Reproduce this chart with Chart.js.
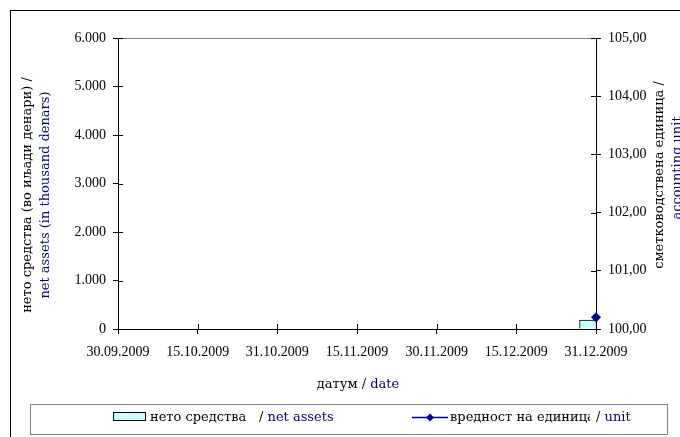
<!DOCTYPE html>
<html>
<head>
<meta charset="utf-8">
<script src="https://cdn.jsdelivr.net/npm/chart.js@4/dist/chart.umd.min.js"></script>
<style>
  html, body { margin: 0; padding: 0; background: #fff; }
  #wrap { width: 680px; height: 437px; }
</style>
</head>
<body>
<div id="wrap"><canvas id="myChart" width="680" height="437"></canvas></div>
<script>
// x axis tick labels (evenly spaced, index 0..6)
const dateLabels = ['30.09.2009', '15.10.2009', '31.10.2009', '15.11.2009', '30.11.2009', '15.12.2009', '31.12.2009'];

// net assets (thousand denars), bar position on the index axis
const barX = [5.9];
const netAssets = [185];

// accounting unit value
const unitX = [6];
const unitValue = [100.2];

// axis ranges
const leftMin = 0, leftMax = 6000, leftStep = 1000;
const rightMin = 100, rightMax = 105, rightStep = 1;

const navy = '#000080';
const FONT = '"Liberation Serif", "Times New Roman", serif';
const TEXT_FONT = '13px "DejaVu Serif", serif';

// draw text parts of different colours one after another
function drawParts(ctx, parts, x, y) {
  let cx = x;
  parts.forEach(([text, color]) => {
    ctx.fillStyle = color;
    ctx.fillText(text, cx, y);
    cx += ctx.measureText(text).width;
  });
}

function partsWidth(ctx, parts) {
  return parts.reduce((w, [text]) => w + ctx.measureText(text).width, 0);
}

function rotatedText(ctx, text, color, x, y) {
  ctx.save();
  ctx.translate(x, y);
  ctx.rotate(-Math.PI / 2);
  ctx.textAlign = 'center';
  ctx.fillStyle = color;
  ctx.fillText(text, 0, 0);
  ctx.restore();
}

const decorPlugin = {
  id: 'decor',
  afterDraw(chart) {
    const ctx = chart.ctx;
    const area = chart.chartArea;
    const sx = chart.scales.x, sy = chart.scales.y, sy1 = chart.scales.y1;
    ctx.save();

    // outer frame
    ctx.strokeStyle = '#000';
    ctx.lineWidth = 1;
    ctx.strokeRect(10.5, 10.5, 900, 900);

    // top border of the plot area
    ctx.strokeStyle = '#808080';
    ctx.beginPath();
    ctx.moveTo(Math.round(area.left), Math.round(area.top) + 0.5);
    ctx.lineTo(Math.round(area.right), Math.round(area.top) + 0.5);
    ctx.stroke();

    // inner halves of the tick marks
    ctx.strokeStyle = '#000';
    ctx.beginPath();
    sy.ticks.forEach(t => {
      const p = Math.round(sy.getPixelForValue(t.value)) + 0.5;
      ctx.moveTo(area.left, p); ctx.lineTo(area.left + 5, p);
    });
    sy1.ticks.forEach(t => {
      const p = Math.round(sy1.getPixelForValue(t.value)) + 0.5;
      ctx.moveTo(area.right - 5, p); ctx.lineTo(area.right, p);
    });
    sx.ticks.forEach(t => {
      const p = Math.round(sx.getPixelForValue(t.value)) + 0.5;
      ctx.moveTo(p, area.bottom); ctx.lineTo(p, area.bottom - 5);
    });
    ctx.stroke();

    ctx.font = TEXT_FONT;
    ctx.textBaseline = 'middle';

    // axis titles
    rotatedText(ctx, 'нето средства (во иљади денари) /', '#000', 28, 195);
    rotatedText(ctx, 'net assets (in thousand denars)', navy, 46, 195);
    rotatedText(ctx, 'сметководствена единица /', '#000', 660, 175);
    rotatedText(ctx, 'accounting unit', navy, 678, 168);

    ctx.textAlign = 'left';
    const xt = [['датум / ', '#000'], ['date', navy]];
    drawParts(ctx, xt, 358 - partsWidth(ctx, xt) / 2, 385);

    // legend box
    ctx.strokeStyle = '#808080';
    ctx.strokeRect(30.5, 404.5, 637, 30);

    // legend: net assets
    ctx.fillStyle = '#ccffff';
    ctx.fillRect(113, 412, 33, 9);
    ctx.strokeStyle = '#000';
    ctx.strokeRect(113.5, 412.5, 32, 8);
    drawParts(ctx, [['нето средства', '#000']], 150, 418);
    drawParts(ctx, [['/ ', '#000'], ['net assets', navy]], 259, 418);

    // legend: unit value (label clipped as in the original)
    ctx.strokeStyle = navy;
    ctx.lineWidth = 1.5;
    ctx.beginPath();
    ctx.moveTo(412, 417.5); ctx.lineTo(448, 417.5);
    ctx.stroke();
    ctx.fillStyle = navy;
    ctx.beginPath();
    ctx.moveTo(430, 413.5); ctx.lineTo(434, 417.5); ctx.lineTo(430, 421.5); ctx.lineTo(426, 417.5);
    ctx.closePath();
    ctx.fill();
    ctx.save();
    ctx.beginPath();
    ctx.rect(449, 405, 141, 29);
    ctx.clip();
    drawParts(ctx, [['вредност на единица', '#000']], 450, 418);
    ctx.restore();
    drawParts(ctx, [['/ ', '#000'], ['unit', navy]], 596, 418);

    ctx.restore();
  }
};

const tickFont = { family: FONT, size: 14 };

const ctx = document.getElementById('myChart').getContext('2d');
const chart = new Chart(ctx, {
  type: 'bar',
  data: {
    datasets: [
      {
        type: 'bar',
        label: 'нето средства / net assets',
        data: barX.map((x, i) => ({ x: x, y: netAssets[i] })),
        xAxisID: 'x',
        yAxisID: 'y',
        backgroundColor: '#ccffff',
        borderColor: '#000',
        borderWidth: 1,
        barThickness: 17,
        clip: false,
        order: 2,
      },
      {
        type: 'line',
        label: 'вредност на единица / unit',
        data: unitX.map((x, i) => ({ x: x, y: unitValue[i] })),
        xAxisID: 'x',
        yAxisID: 'y1',
        borderColor: navy,
        borderWidth: 1.5,
        pointStyle: 'rectRot',
        pointRadius: 4,
        pointBackgroundColor: navy,
        pointBorderColor: navy,
        clip: false,
        order: 1,
      },
    ],
  },
  options: {
    responsive: false,
    animation: false,
    layout: { padding: { left: 0, right: 0, top: 38, bottom: 0 } },
    plugins: {
      legend: { display: false },
      tooltip: { enabled: false },
    },
    scales: {
      x: {
        type: 'linear',
        position: 'bottom',
        min: 0,
        max: dateLabels.length - 1,
        offset: false,
        afterFit: s => { s.height = 108; },
        ticks: {
          stepSize: 1,
          autoSkip: false,
          maxRotation: 0,
          color: '#000',
          font: tickFont,
          padding: 10,
          callback: v => dateLabels[v],
        },
        grid: { offset: false, drawOnChartArea: false, color: '#000', tickLength: 5 },
        border: { color: '#000', width: 1 },
      },
      y: {
        position: 'left',
        min: leftMin,
        max: leftMax,
        afterFit: s => { s.width = 118; },
        ticks: {
          stepSize: leftStep,
          color: '#000',
          font: tickFont,
          padding: 7,
          callback: v => String(v).replace(/\B(?=(\d{3})+(?!\d))/g, '.'),
        },
        grid: { drawOnChartArea: false, color: '#000', tickLength: 5 },
        border: { color: '#000', width: 1 },
      },
      y1: {
        position: 'right',
        min: rightMin,
        max: rightMax,
        afterFit: s => { s.width = 84; },
        ticks: {
          stepSize: rightStep,
          color: '#000',
          font: tickFont,
          padding: 7,
          callback: v => v.toFixed(2).replace('.', ','),
        },
        grid: { drawOnChartArea: false, color: '#000', tickLength: 5 },
        border: { color: '#000', width: 1 },
      },
    },
  },
  plugins: [decorPlugin],
});
</script>
</body>
</html>
